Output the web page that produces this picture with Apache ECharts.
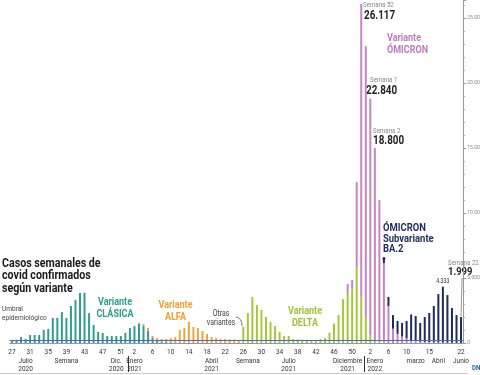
<!DOCTYPE html>
<html>
<head>
<meta charset="utf-8">
<script src="https://cdn.jsdelivr.net/npm/echarts@6/dist/echarts.min.js"></script>
<style>
html,body{margin:0;padding:0;background:#fff;}
#chart{width:480px;height:375px;}
</style>
</head>
<body>
<div id="chart"></div>
<script>
// semanas (eje X)
var semanas2020 = [27,28,29,30,31,32,33,34,35,36,37,38,39,40,41,42,43,44,45,46,47,48,49,50,51,52];
var semanas2021 = [1,2,3,4,5,6,7,8,9,10,11,12,13,14,15,16,17,18,19,20,21,22,23,24,25,26,27,28,29,30,31,32,33,34,35,36,37,38,39,40,41,42,43,44,45,46,47,48,49,50,51,52];
var semanas2022 = [1,2,3,4,5,6,7,8,9,10,11,12,13,14,15,16,17,18,19,20,21,22];

// semanas con etiqueta
var marcas2020 = [27,31,35,39,43,47,51];
var marcas2021 = [2,6,10,14,18,22,26,30,34,38,42,46,50];
var marcas2022 = [2,6,10,15,22];

// textos de meses bajo el eje
var mesesCat = ['2020-30','2020-39','2020-50','2021-2','2021-19','2021-27','2021-36','2021-49','2022-3','2022-12','2022-17','2022-22'];
var mesesTxt = ['Julio\n2020','Semana','Dic.\n2020','Enero\n2021','Abril\n2021','Semana','Julio\n2021','Diciembre\n2021','Enero\n2022','marzo','Abril','Junio'];
var separadores = ['2021-1','2022-1'];

// casos por variante (2020 s27-52 | 2021 s1-52 | 2022 s1-22)
var clasica = [
  150,250,460,310,620,620,620,1000,1080,1920,1920,2380,1920,2850,3300,3850,3870,2300,1380,850,770,540,540,540,540,770,
  1150,1300,1480,1300,950,400,200,120,80,60,40,30,20,
  0,0,0,0,0,0,0,0,0,0, 0,0,0,0,0,0,0,0,0,0, 0,0,0,0,0,0,0,0,0,0, 0,0,0,0,0,0,0,0,0,
  0,0,0,0,0,0,0,0,0,0, 0,0,0,0,0,0,0,0,0,0, 0,0
];
var alfa = [
  0,0,0,0,0,0,0,0,0,0, 0,0,0,0,0,0,0,0,0,0, 0,0,0,0,0,0,
  0,0,70,160,200,140,180,190,230,320, 420,970,1130,1620,1230,1150,920,690,460,380, 310,300,280,230,150,100,50,
  0,0,0,0,0,0,0,0,0,0, 0,0,0,0,0,0,0,0,0,0, 0,0,0,0,0,
  0,0,0,0,0,0,0,0,0,0, 0,0,0,0,0,0,0,0,0,0, 0,0
];
var delta = [
  0,0,0,0,0,0,0,0,0,0, 0,0,0,0,0,0,0,0,0,0, 0,0,0,0,0,0,
  0,0,0,0,0,0,0,0,0,0, 0,0,0,0,0,0,0,0,0,0, 0,
  10,30,50,80,1130,2250,3540,2920,2540,2000, 1620,1310,850,540,540,310,280,250,250,250, 250,300,380,800,1500,2150,3380,3850,4230,5850, 3500,
  2000,600,200,100,50,0,0,0,0,0, 0,0,0,0,0,0,0,0,0,0, 0,0
];
var omicron = [
  0,0,0,0,0,0,0,0,0,0, 0,0,0,0,0,0,0,0,0,0, 0,0,0,0,0,0,
  0,0,0,0,0,0,0,0,0,0, 0,0,0,0,0,0,0,0,0,0, 0,0,0,0,0,0,0,0,0,0, 0,0,0,0,0,0,0,0,0,0, 0,0,0,0,0,0,0,0,
  690,620,6530,22617,
  20840,18200,14800,10900,6100,2850,1100,700,500,350, 200,150,100,80,60,50,40,30,20,20, 10,10
];
var ba2 = [
  0,0,0,0,0,0,0,0,0,0, 0,0,0,0,0,0,0,0,0,0, 0,0,0,0,0,0,
  0,0,0,0,0,0,0,0,0,0, 0,0,0,0,0,0,0,0,0,0, 0,0,0,0,0,0,0,0,0,0, 0,0,0,0,0,0,0,0,0,0, 0,0,0,0,0,0,0,0,0,0, 0,0,
  0,0,0,0,350,700,1050,1000,1050,1350, 2000,1930,1440,1920,2250,2800,3730,4303,3670,2670, 2140,1989
];
var umbral = 250;

var categorias = semanas2020.map(function(s){ return '2020-' + s; })
  .concat(semanas2021.map(function(s){ return '2021-' + s; }))
  .concat(semanas2022.map(function(s){ return '2022-' + s; }));
var etiquetas = marcas2020.map(function(s){ return '2020-' + s; })
  .concat(marcas2021.map(function(s){ return '2021-' + s; }))
  .concat(marcas2022.map(function(s){ return '2022-' + s; }));

var FUENTE = "Roboto, 'Liberation Sans', sans-serif";
var ESTRECHO = 0.82; // la tipografía original es condensada
function pts(v) { return String(v).replace(/\B(?=(\d{3})+(?!\d))/g, '.'); }
function total(cat) {
  var i = categorias.indexOf(cat);
  return clasica[i] + alfa[i] + delta[i] + omicron[i] + ba2[i];
}
function serie(nombre, datos, color) {
  return { name: nombre, type: 'bar', stack: 'casos', data: datos, barWidth: 2, silent: true, itemStyle: { color: color } };
}

var chart = echarts.init(document.getElementById('chart'));
var s1 = serie('Clásica', clasica, '#2f9e90');
s1.markLine = {
  silent: true, symbol: 'none', label: { show: false },
  lineStyle: { color: '#4a6db5', width: 1, type: 'solid' },
  data: [{ yAxis: umbral }]
};

chart.setOption({
  animation: false,
  grid: { left: 9.7, right: 16.7, top: 0, bottom: 32, outerBoundsMode: 'none' },
  xAxis: [{
    type: 'category', data: categorias,
    axisLine: { lineStyle: { color: '#999', width: 1 } },
    axisTick: { interval: 0, alignWithLabel: true, length: 3, lineStyle: { color: '#999' } },
    axisLabel: {
      interval: function(i, v){ return etiquetas.indexOf(v) >= 0; },
      formatter: function(v){ return v.split('-')[1]; },
      fontSize: 6.5, fontFamily: FUENTE, color: '#333', margin: 6
    }
  }, {
    type: 'category', data: categorias, position: 'bottom', offset: 14,
    axisLine: { show: false }, axisTick: { show: false },
    axisLabel: {
      interval: function(i, v){ return mesesCat.indexOf(v) >= 0; },
      formatter: function(v){ return mesesTxt[mesesCat.indexOf(v)]; },
      fontSize: 6.5, lineHeight: 8, fontFamily: FUENTE, color: '#333', margin: 0
    }
  }],
  yAxis: {
    type: 'value', position: 'right', min: 0, max: 26400, interval: 5000,
    axisLine: { show: true, lineStyle: { color: '#999' } },
    axisTick: { show: true, length: 3, lineStyle: { color: '#999' } },
    minorTick: { show: true, splitNumber: 5, length: 1.5, lineStyle: { color: '#aaa' } },
    splitLine: { show: false },
    axisLabel: { showMaxLabel: false, formatter: pts, fontSize: 5, fontFamily: FUENTE, color: '#888', margin: 4 }
  },
  series: [
    s1,
    serie('Alfa', alfa, '#f3a33c'),
    serie('Delta', delta, '#a6c63c'),
    serie('Ómicron', omicron, '#c585c1'),
    serie('Ómicron BA.2', ba2, '#1e2c5b')
  ]
});

function px(cat, val) { return chart.convertToPixel({ xAxisIndex: 0, yAxisIndex: 0 }, [cat, val]); }
function texto(t, x, y, size, color, weight, align, lh) {
  return { type: 'text', x: x, y: y, scaleX: ESTRECHO, silent: true, style: {
    text: t, fontSize: size, fontFamily: FUENTE, fontWeight: weight || 'normal', fill: color,
    textAlign: align || 'left', align: align || 'left', textVerticalAlign: 'top', verticalAlign: 'top',
    lineHeight: lh || size } };
}

var banda = px('2020-28', 0)[0] - px('2020-27', 0)[0];
var g = [];
separadores.forEach(function(c){
  var x = Math.round(px(c, 0)[0] - banda / 2) + 0.5;
  g.push({ type: 'line', silent: true, shape: { x1: x, y1: 356, x2: x, y2: 372 }, style: { stroke: '#333', lineWidth: 1 } });
});
g.push({ type: 'line', silent: true, shape: { x1: 0, y1: 373.5, x2: 468, y2: 373.5 }, style: { stroke: '#ccc', lineWidth: 1 } });

g.push(texto('Casos semanales de\ncovid confirmados\nsegún variante', 2, 257.5, 13, '#1a1a1a', 'bold', 'left', 12.3));
g.push(texto('Umbral\nepidemiológico', 2, 304.5, 8, '#444', 'normal', 'left', 9));
g.push(texto('Variante\nCLÁSICA', 115, 296, 11, '#2a9d8f', 'bold', 'center', 12));
g.push(texto('Variante\nALFA', 175.5, 299, 11, '#f0a030', 'bold', 'center', 12));
g.push(texto('Otras\nvariantes', 221, 310, 8.5, '#444', 'normal', 'center', 8.5));
g.push({ type: 'bezierCurve', silent: true, shape: { x1: 236, y1: 317, cpx1: 242, cpy1: 318, x2: 242, y2: 326 }, style: { stroke: '#555', lineWidth: 0.8, fill: null } });
g.push(texto('Variante\nDELTA', 305, 305, 11, '#9fc232', 'bold', 'center', 12));
g.push(texto('Variante\nÓMICRON', 387, 32, 11, '#c07cbc', 'bold', 'left', 12));

g.push(texto('Semana 52', 363, 1.5, 7.5, '#888', 'normal', 'left', 8));
g.push(texto(pts(total('2021-52')), 364, 10, 12, '#222', 'bold', 'left', 12));
g.push(texto('Semana 1', 370, 76, 7.5, '#888', 'normal', 'left', 8));
g.push(texto(pts(total('2022-1')), 366, 84.5, 12, '#222', 'bold', 'left', 12));
g.push(texto('Semana 2', 373, 127, 7.5, '#888', 'normal', 'left', 8));
g.push(texto(pts(total('2022-2')), 373, 135, 12, '#222', 'bold', 'left', 12));

g.push(texto('ÓMICRON\nSubvariante\nBA.2', 383, 223, 11.5, '#1e2c5b', 'bold', 'left', 10.5));
var pb = px('2022-5', total('2022-5'));
g.push({ type: 'circle', silent: true, shape: { cx: pb[0], cy: pb[1], r: 1.5 }, style: { fill: '#1e2c5b' } });

var p18 = px('2022-18', total('2022-18'));
g.push(texto(pts(total('2022-18')), p18[0], p18[1] - 8, 6.5, '#333', 'normal', 'center', 6));

g.push(texto('Semana 22', 448, 259, 7.5, '#888', 'normal', 'left', 8));
g.push(texto(pts(total('2022-22')), 448, 266, 11.5, '#222', 'bold', 'left', 12));
var p22 = px('2022-22', total('2022-22'));
g.push({ type: 'line', silent: true, shape: { x1: p22[0] + 1, y1: 278, x2: p22[0], y2: p22[1] - 1 }, style: { stroke: '#777', lineWidth: 0.8 } });

g.push(texto('DN', 472, 365, 7.5, '#2b5ea8', 'bold', 'left', 7));

chart.setOption({ graphic: g });
</script>
</body>
</html>
